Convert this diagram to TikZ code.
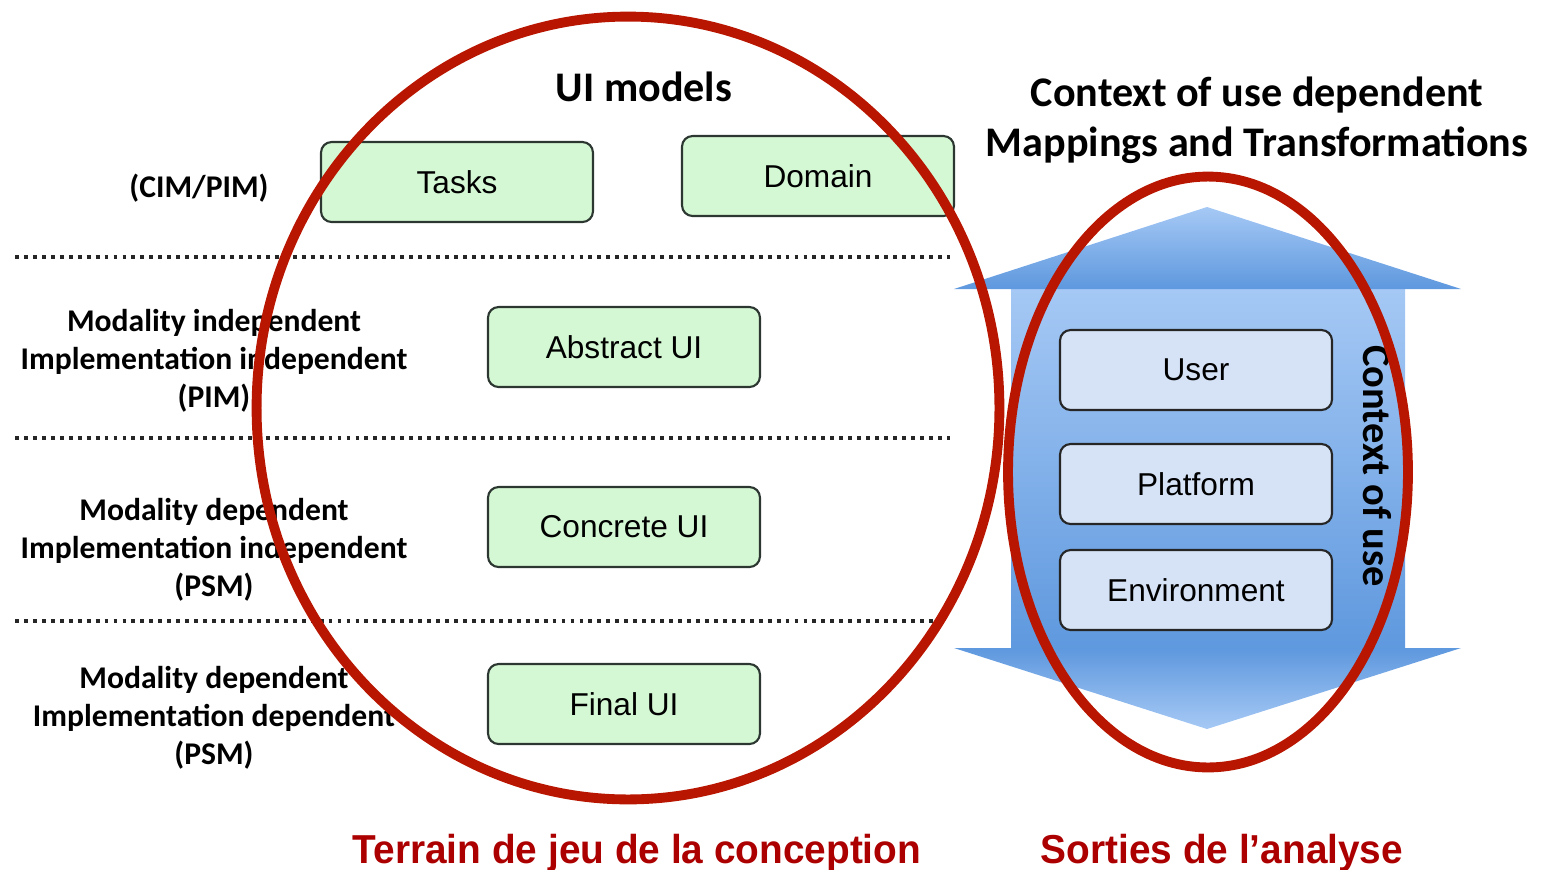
\documentclass[tikz,border=0pt]{standalone}
\usepackage{fontspec}
\setmainfont{Carlito}
\newfontfamily\boxfont{Liberation Sans}
\newfontfamily\redfont[FakeStretch=0.96]{Liberation Sans Bold}
\usetikzlibrary{positioning,calc}
\definecolor{uigreen}{RGB}{212,248,212}
\definecolor{ctxblue}{RGB}{214,227,246}
\definecolor{boxline}{RGB}{45,55,50}
\definecolor{ringred}{RGB}{184,22,0}
\definecolor{labred}{RGB}{172,0,0}
\definecolor{arrlight}{RGB}{166,201,245}
\definecolor{arrdark}{RGB}{94,152,222}
\tikzset{
    uibox/.style={draw=boxline, line width=1.2pt, fill=uigreen, rounded corners=6pt,
        minimum width=5.44cm, minimum height=1.6cm, font=\boxfont\fontsize{18}{20}\selectfont},
    ctxbox/.style={uibox, fill=ctxblue, draw=black!85},
    lvl/.style={align=center, font=\bfseries\fontsize{18}{21.5}\selectfont},
    head/.style={align=center, font=\bfseries\fontsize{24}{28.5}\selectfont},
    redlab/.style={text=labred, font=\redfont\fontsize{23}{25}\selectfont},
    sep/.style={line width=2.2pt, dash pattern=on 2.2pt off 2.9pt, black!85},
    ring/.style={draw=ringred, line width=5.6pt},
}

\begin{document}
\begin{tikzpicture}[x=0.02cm, y=-0.02cm]
    \useasboundingbox (0,0) rectangle (1541,869);

    % level separators
    \draw[sep] (15,257) -- (950,257);
    \draw[sep] (15,438) -- (950,438);
    \draw[sep] (15,621) -- (940,621);

    % levels
    \node[lvl] (cim) at (199,188) {(CIM/PIM)};
    \node[lvl] (pim) at (214,361) {Modality independent\\Implementation independent\\(PIM)};
    \node[lvl] (psmA) at (214,550) {Modality dependent\\Implementation independent\\(PSM)};
    \node[lvl] (psmB) at (214,718) {Modality dependent\\Implementation dependent\\(PSM)};

    % UI models
    \node[head] (models) at (644,87) {UI models};
    \node[uibox] (tasks) at (457,182) {Tasks};
    \node[uibox] (domain) at (818,176) {Domain};
    \node[uibox] (abs) at (624,347) {Abstract UI};
    \node[uibox] (conc) at (624,527) {Concrete UI};
    \node[uibox] (final) at (624,704) {Final UI};

    % context of use
    \node[head] (mapt) at (1257,120) {Context of use dependent\\Mappings and Transformations};
    \shade[top color=arrlight, bottom color=arrdark]
        (1011,285) rectangle (1405,652);
    \shade[top color=arrlight, bottom color=arrdark]
        (1207,207) -- (1461,289) -- (954,289) -- cycle;
    \shade[top color=arrdark, bottom color=arrlight]
        (954,648) -- (1461,648) -- (1207,729) -- cycle;
    \node[ctxbox] (user) at (1196,370) {User};
    \node[ctxbox] (plat) at (1196,484) {Platform};
    \node[ctxbox] (env) at (1196,590) {Environment};
    \node[rotate=-90, font=\bfseries\fontsize{23}{26}\selectfont] (ctx) at (1377,466) {Context of use};

    % highlights
    \draw[ring] (628,408) ellipse [x radius=7.43cm, y radius=7.83cm];
    \draw[ring] (1208,472) ellipse [x radius=4cm, y radius=5.91cm];
    \node[redlab, anchor=base] (play) at (637,863) {Terrain de jeu de la conception};
    \node[redlab, anchor=base] (out) at (1222,863) {Sorties de l’analyse};
\end{tikzpicture}
\end{document}
